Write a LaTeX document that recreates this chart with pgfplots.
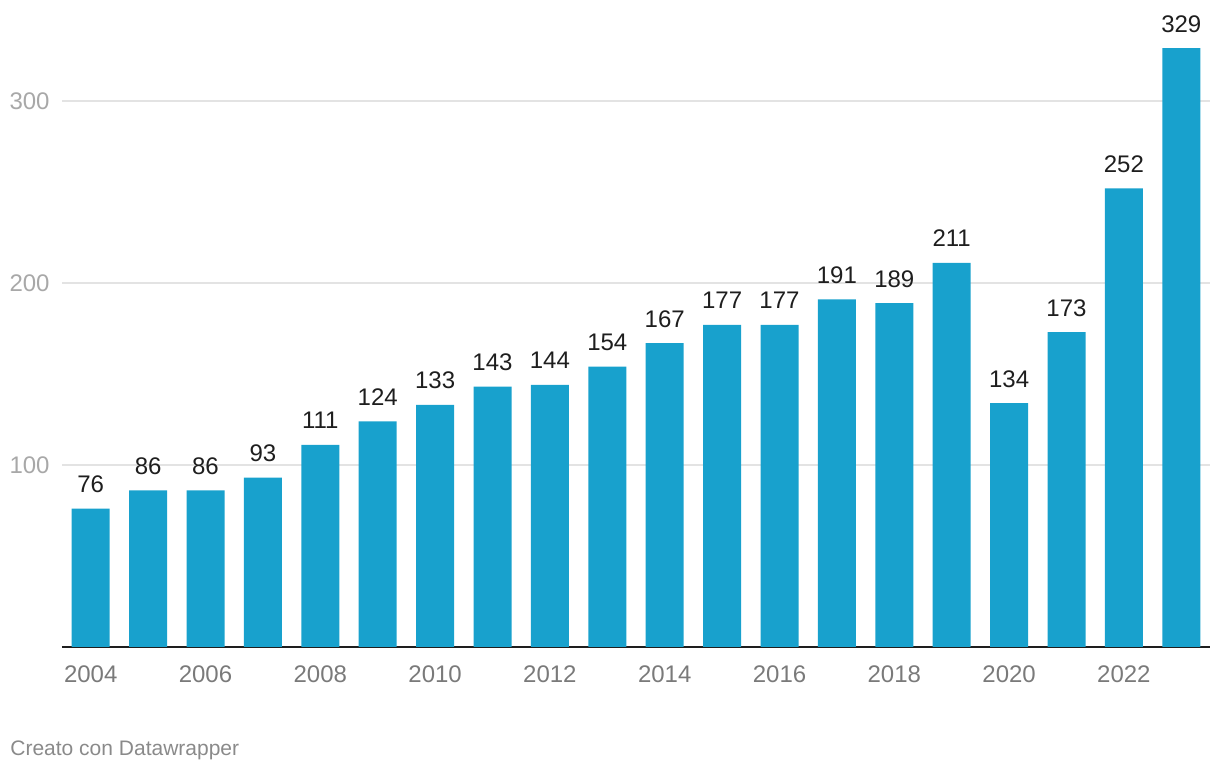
\documentclass[border=0pt]{standalone}
\usepackage{pgfplots}
\pgfplotsset{compat=1.18}
\usepackage{fontspec}
\setmainfont{Liberation Sans}
\definecolor{barblue}{HTML}{18A1CD}
\definecolor{gridgray}{HTML}{E3E3E3}
\definecolor{ylab}{HTML}{A8A8A8}
\definecolor{xlab}{HTML}{7A7A7A}
\definecolor{vlab}{HTML}{1E1E1E}
\definecolor{credit}{HTML}{8A8A8A}
\begin{document}
\begin{tikzpicture}
\path[use as bounding box] (-31pt,-61.5pt) rectangle (579pt,323.5pt);
\begin{axis}[
  scale only axis,
  width=574pt, height=318.5pt,
  xmin=-0.5, xmax=19.5,
  ymin=0, ymax=350,
  axis x line=bottom, axis y line=none,
  x axis line style={-, line width=1.2pt, color=vlab},
  ybar, bar width=19pt, bar shift=0pt,
  xtick={0,2,...,18},
  xticklabels={2004,2006,2008,2010,2012,2014,2016,2018,2020,2022},
  major tick length=0pt,
  /pgf/number format/assume math mode=true,
  xticklabel style={font=\fontsize{12}{14}\selectfont, text=xlab, anchor=base, inner sep=0pt, yshift=-18pt},
  clip=false,
  nodes near coords,
  every node near coord/.append style={font=\fontsize{12}{14}\selectfont, text=vlab, anchor=base, inner sep=0pt, yshift=8pt},
]
\foreach \v in {100,200,300} {
  \edef\tmp{\noexpand\draw[gridgray, line width=0.6pt] (axis cs:-0.5,\v) -- (axis cs:19.5,\v);
  \noexpand\node[anchor=east, inner sep=0pt, font=\noexpand\fontsize{12}{14}\noexpand\selectfont, text=ylab] at (axis cs:-0.5,\v) [xshift=-6pt] {\v};}
  \tmp
}
\addplot[fill=barblue, draw=none] coordinates {
(0,76) (1,86) (2,86) (3,93) (4,111) (5,124) (6,133) (7,143) (8,144) (9,154)
(10,167) (11,177) (12,177) (13,191) (14,189) (15,211) (16,134) (17,173) (18,252) (19,329)};
\end{axis}
\node[anchor=base west, inner sep=0pt, font=\fontsize{10.5}{12}\selectfont, text=credit] at (-26pt,-54.5pt) {Creato con Datawrapper};
\end{tikzpicture}
\end{document}
